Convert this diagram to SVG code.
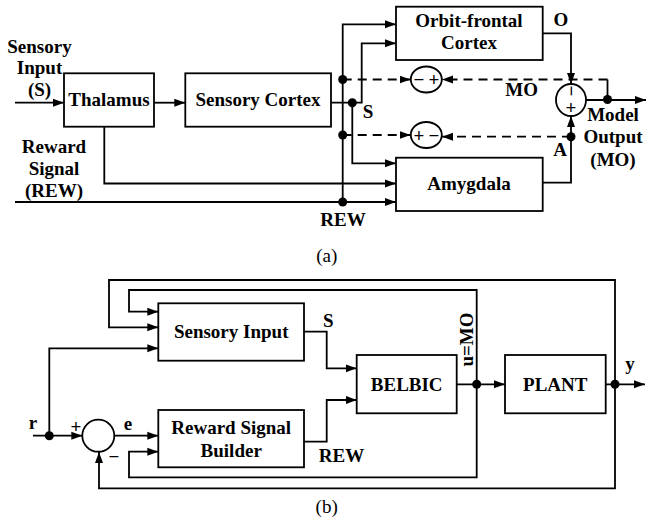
<svg xmlns="http://www.w3.org/2000/svg" width="647" height="524" viewBox="0 0 647 524">
<style>
  .box { fill: #fff; stroke: #000; stroke-width: 1.8; }
  .ln { fill: none; stroke: #000; stroke-width: 1.8; }
  .dash { fill: none; stroke: #000; stroke-width: 1.8; stroke-dasharray: 9 6; }
  .arr { marker-end: url(#ah); }
  .dot { fill: #000; }
  text { font-family: "Liberation Serif", "Times New Roman", serif; font-weight: bold; font-size: 19px; fill: #000; text-anchor: middle; }
  .cap { font-weight: normal; }
  .sign { font-size: 19px; }
</style>
<defs>
  <marker id="ah" markerUnits="userSpaceOnUse" markerWidth="12" markerHeight="10" refX="11" refY="5" orient="auto">
    <path d="M0,1 L11,5 L0,9 Z" fill="#000"/>
  </marker>
</defs>
<rect width="647" height="524" fill="#fff"/>

<!-- ===== (a) ===== -->
<g id="connectors-a">
  <path class="ln arr" d="M15,102.7 H64"/>
  <path class="ln arr" d="M154,102.7 H185.3"/>
  <path class="ln arr" d="M331,102.7 H361.7 V43.3 H396"/>
  <path class="ln arr" d="M352.3,102.7 V163.3 H396"/>
  <path class="ln arr" d="M104.3,126.7 V183.5 H396"/>
  <path class="ln arr" d="M15,202 H396"/>
  <path class="ln arr" d="M342.7,202 V24.3 H396"/>
  <path class="dash arr" d="M342.7,79.5 H410.5"/>
  <path class="dash arr" d="M607.5,79.5 H442"/>
  <path class="ln" d="M607.5,79.5 V99"/>
  <path class="dash arr" d="M342.7,135 H410.5"/>
  <path class="dash arr" d="M571,136.7 H442"/>
  <path class="ln arr" d="M542.7,33.3 H571 V84"/>
  <path class="ln arr" d="M542.7,182.7 H571 V116"/>
  <path class="ln arr" d="M586,100 H646"/>
  <circle class="dot" cx="342.7" cy="79.5" r="4.5"/>
  <circle class="dot" cx="342.7" cy="135" r="4.5"/>
  <circle class="dot" cx="342.7" cy="202" r="4.5"/>
  <circle class="dot" cx="352.3" cy="102.7" r="4.5"/>
  <circle class="dot" cx="607.5" cy="99.5" r="4.5"/>
  <circle class="dot" cx="571" cy="136.7" r="4.5"/>
</g>

<g id="thalamus">
  <rect class="box" x="64" y="73.3" width="90" height="53.4"/>
  <text x="109" y="106">Thalamus</text>
</g>
<g id="sensory-cortex">
  <rect class="box" x="185.3" y="73.3" width="145.7" height="53.4"/>
  <text x="258" y="106">Sensory Cortex</text>
</g>
<g id="orbitofrontal">
  <rect class="box" x="396" y="6.7" width="146.7" height="53.3"/>
  <text x="469" y="27">Orbit-frontal</text>
  <text x="469" y="49">Cortex</text>
</g>
<g id="amygdala">
  <rect class="box" x="396" y="157.7" width="146.7" height="53.3"/>
  <text x="469" y="190">Amygdala</text>
</g>
<g id="sum-o">
  <ellipse class="box" cx="426.3" cy="79.5" rx="15.5" ry="13"/>
  <text class="sign" x="419" y="86">−</text>
  <text class="sign" x="434" y="86">+</text>
</g>
<g id="sum-a">
  <ellipse class="box" cx="426.3" cy="135" rx="15.5" ry="13"/>
  <text class="sign" x="419" y="141.5">+</text>
  <text class="sign" x="434" y="141.5">−</text>
</g>
<g id="sum-mo">
  <ellipse class="box" cx="571" cy="100" rx="15" ry="16"/>
  <text class="sign" x="0" y="0" transform="translate(565,91) rotate(90)">−</text>
  <text class="sign" x="571" y="114">+</text>
</g>
<g id="labels-a">
  <text x="39.5" y="53">Sensory</text>
  <text x="39.5" y="74">Input</text>
  <text x="39.5" y="95.5">(S)</text>
  <text x="54" y="153">Reward</text>
  <text x="54" y="175">Signal</text>
  <text x="54" y="197">(REW)</text>
  <text x="561" y="26">O</text>
  <text x="521.7" y="96">MO</text>
  <text x="368" y="118">S</text>
  <text x="560" y="156">A</text>
  <text x="613" y="121">Model</text>
  <text x="613" y="143">Output</text>
  <text x="613" y="166">(MO)</text>
  <text x="343" y="226">REW</text>
  <text class="cap" x="326.7" y="262">(a)</text>
</g>

<!-- ===== (b) ===== -->
<g id="connectors-b">
  <path class="ln arr" d="M615,384.3 V280 H109 V327.3 H158.3"/>
  <path class="ln arr" d="M615,384.3 V488.3 H99 V452"/>
  <path class="ln arr" d="M476.7,384.3 V290 H129 V311.7 H158.3"/>
  <path class="ln arr" d="M476.7,384.3 V477.3 H129 V451.7 H158.3"/>
  <path class="ln arr" d="M33,435.7 H82.3"/>
  <path class="ln arr" d="M49.3,435.7 V348.3 H158.3"/>
  <path class="ln arr" d="M114.3,435.7 H158.3"/>
  <path class="ln arr" d="M304,331.7 H326.7 V368.3 H356.7"/>
  <path class="ln arr" d="M304,441.7 H326.7 V400 H356.7"/>
  <path class="ln arr" d="M456.7,384.3 H505"/>
  <path class="ln arr" d="M605.7,384.3 H645"/>
  <circle class="dot" cx="49.3" cy="435.7" r="4.5"/>
  <circle class="dot" cx="476.7" cy="384.3" r="4.5"/>
  <circle class="dot" cx="615" cy="384.3" r="4.5"/>
</g>
<g id="sensory-input">
  <rect class="box" x="158.3" y="303.3" width="145.7" height="57.4"/>
  <text x="231.2" y="338">Sensory Input</text>
</g>
<g id="reward-builder">
  <rect class="box" x="158.3" y="410" width="145.7" height="57.3"/>
  <text x="231.2" y="433.5">Reward Signal</text>
  <text x="231.2" y="457">Builder</text>
</g>
<g id="belbic">
  <rect class="box" x="356.7" y="355" width="100" height="58.3"/>
  <text x="406.7" y="391">BELBIC</text>
</g>
<g id="plant">
  <rect class="box" x="505" y="355" width="100.7" height="58.3"/>
  <text x="555.3" y="391">PLANT</text>
</g>
<g id="error-sum">
  <circle class="box" cx="98.3" cy="435.7" r="16"/>
</g>
<g id="labels-b">
  <text x="328.3" y="327">S</text>
  <text x="341.5" y="462">REW</text>
  <text x="0" y="0" transform="translate(473,339.5) rotate(-90)">u=MO</text>
  <text x="630" y="370">y</text>
  <text x="33" y="429">r</text>
  <text x="76" y="433">+</text>
  <text x="114" y="463">−</text>
  <text x="128" y="430">e</text>
  <text class="cap" x="326.7" y="513">(b)</text>
</g>
</svg>
